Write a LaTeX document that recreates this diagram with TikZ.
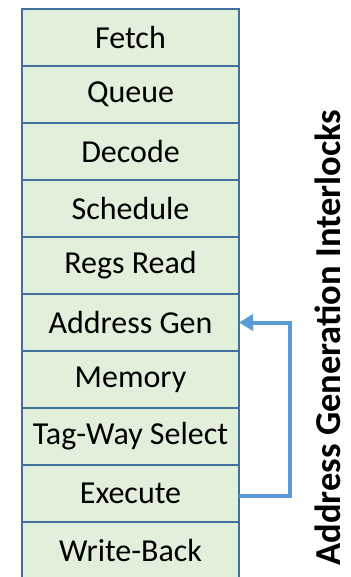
\documentclass[tikz,border=0pt]{standalone}
\usepackage{fontspec}
\setmainfont{Carlito}
\usetikzlibrary{arrows.meta, positioning}
\definecolor{stagefill}{RGB}{226, 239, 218}
\definecolor{stageline}{RGB}{65, 113, 156}
\definecolor{interlockblue}{RGB}{91, 155, 213}

\begin{document}
\begin{tikzpicture}[
  x=1pt, y=-1pt,
  every node/.style={font=\fontsize{32}{36}\selectfont},
  stage/.style={rectangle, draw=stageline, fill=stagefill, line width=1.3pt,
                minimum width=217pt, minimum height=57pt, inner sep=0pt,
                outer sep=0pt, text centered},
  interlock/.style={draw=interlockblue, line width=4pt,
                    -{Triangle[length=14pt, width=16pt]}}
]
\useasboundingbox (0,0) rectangle (350,577);

% Pipeline stages, stacked with no gap
\node[stage] (fetch) at (130.5, 37.5) {Fetch};
\node[stage, below=0pt of fetch] (queue) {Queue};
\node[stage, below=0pt of queue] (decode) {Decode};
\node[stage, below=0pt of decode] (schedule) {Schedule};
\node[stage, below=0pt of schedule] (regs) {Regs Read};
\node[stage, below=0pt of regs] (agen) {Address Gen};
\node[stage, below=0pt of agen] (memory) {Memory};
\node[stage, below=0pt of memory] (tagway) {Tag-Way Select};
\node[stage, below=0pt of tagway] (execute) {Execute};
\node[stage, below=0pt of execute] (wb) {Write-Back};

% Feedback from execute back to address generation
\draw[interlock] ([yshift=-2pt]execute.east) -- ++(51,0) |- (agen.east);

% Side label
\node[rotate=90, anchor=base, font=\fontsize{36.5}{40}\selectfont\bfseries]
  (title) at (340, 337.5) {Address Generation Interlocks};

\end{tikzpicture}
\end{document}
